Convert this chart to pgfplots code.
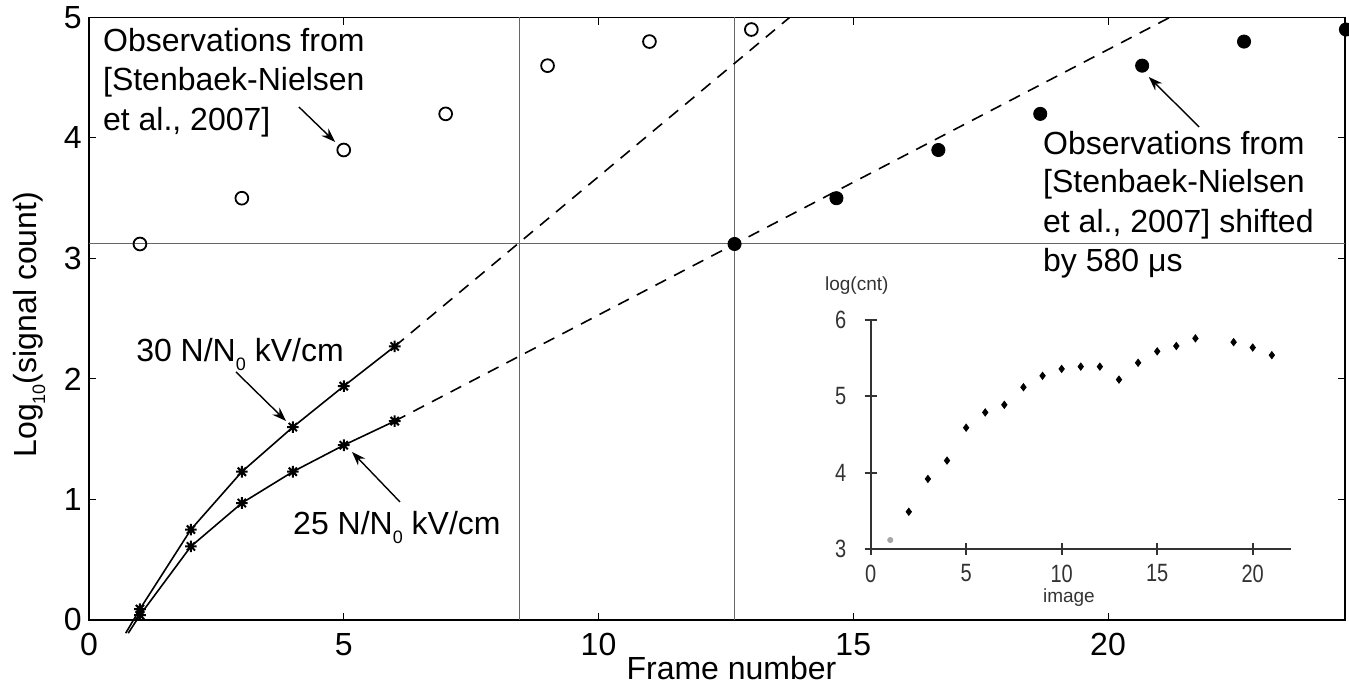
\documentclass[border=0pt]{standalone}
\usepackage{fontspec}
\setmainfont{Liberation Sans}
\newfontfamily\narrowfont[FakeStretch=0.8]{Liberation Sans}
\usepackage{pgfplots}
\pgfplotsset{compat=1.18}
\usetikzlibrary{arrows.meta}

\newcommand{\bigfont}{\fontsize{16}{19}\selectfont}
\newcommand{\smallfont}{\narrowfont\fontsize{12.5}{14}\selectfont}
\newcommand{\sub}[1]{\raisebox{-4.5pt}{\fontsize{9}{9}\selectfont #1}}

% MATLAB-like eight-armed star
\pgfdeclareplotmark{mstar}{%
  \pgfpathmoveto{\pgfqpoint{-\pgfplotmarksize}{0pt}}%
  \pgfpathlineto{\pgfqpoint{\pgfplotmarksize}{0pt}}%
  \pgfpathmoveto{\pgfqpoint{0pt}{-\pgfplotmarksize}}%
  \pgfpathlineto{\pgfqpoint{0pt}{\pgfplotmarksize}}%
  \pgfpathmoveto{\pgfqpoint{-0.707\pgfplotmarksize}{-0.707\pgfplotmarksize}}%
  \pgfpathlineto{\pgfqpoint{0.707\pgfplotmarksize}{0.707\pgfplotmarksize}}%
  \pgfpathmoveto{\pgfqpoint{-0.707\pgfplotmarksize}{0.707\pgfplotmarksize}}%
  \pgfpathlineto{\pgfqpoint{0.707\pgfplotmarksize}{-0.707\pgfplotmarksize}}%
  \pgfusepathqstroke}

\begin{document}
\begin{tikzpicture}[
  note/.style={font=\bigfont, inner sep=0pt, anchor=base west},
  pointer/.style={line width=0.7pt, -{Stealth[length=7pt, width=5pt]}},
  insettick/.style={black!80, line width=1pt},
]
\begin{axis}[
  name=main,
  scale only axis,
  width=628pt, height=301.25pt,
  xmin=0, xmax=24.65, ymin=0, ymax=5,
  xtick={0,5,10,15,20}, ytick={0,1,2,3,4,5},
  tick align=inside,
  major tick length=3.7pt,
  axis line style={line width=0.6pt},
  tick style={line width=0.5pt, black},
  /pgf/number format/assume math mode=true,
  ticklabel style={font=\bigfont, inner sep=0pt},
  xticklabel style={yshift=-6.5pt},
  yticklabel style={xshift=-3.5pt},
  clip=false,
]
% reference lines
\addplot[black!60, line width=0.5pt] coordinates {(0,3.12) (24.65,3.12)};
\addplot[black!60, line width=0.5pt] coordinates {(8.45,0) (8.45,5)};
\addplot[black!60, line width=0.5pt] coordinates {(12.67,0) (12.67,5)};

% 30 N/N0 kV/cm
\addplot[black, line width=0.8pt, mark=mstar, mark size=2.9pt,
  mark options={line width=1pt}]
  coordinates {(1,0.09) (2,0.75) (3,1.23) (4,1.60) (5,1.94) (6,2.27)};
\addplot[black, line width=0.8pt] coordinates {(0.72,-0.11) (1,0.09)};
\addplot[black, line width=0.8pt, dash pattern=on 6pt off 4.5pt]
  coordinates {(6,2.27) (13.75,5)};

% 25 N/N0 kV/cm
\addplot[black, line width=0.8pt, mark=mstar, mark size=2.9pt,
  mark options={line width=1pt}]
  coordinates {(1,0.04) (2,0.61) (3,0.97) (4,1.23) (5,1.45) (6,1.65)};
\addplot[black, line width=0.8pt] coordinates {(0.77,-0.11) (1,0.04)};
\addplot[black, line width=0.8pt, dash pattern=on 6pt off 4.5pt]
  coordinates {(6,1.65) (21.21,5)};

% observations
\addplot[only marks, mark=o, mark size=3.2pt, line width=0.9pt, black]
  coordinates {(1,3.12) (3,3.5) (5,3.9) (7,4.2) (9,4.6) (11,4.8) (13,4.9)};
% shifted observations
\addplot[only marks, mark=*, mark size=3.3pt, black]
  coordinates {(12.67,3.12) (14.67,3.5) (16.67,3.9) (18.67,4.2) (20.67,4.6) (22.67,4.8) (24.67,4.9)};

% labels
\node[font=\bigfont, inner sep=0pt, anchor=base, rotate=90] at (axis cs:-1.04,2.45) {Log\sub{10}(signal count)};
\node[font=\bigfont, inner sep=0pt, anchor=base] at (axis cs:12.61,-0.498) {Frame number};

% annotations
\node[note] at (axis cs:0.269,4.716) {Observations from};
\node[note] at (axis cs:0.269,4.390) {[Stenbaek-Nielsen};
\node[note] at (axis cs:0.269,4.066) {et al., 2007]};
\draw[pointer] (axis cs:4.12,4.257) -- (axis cs:4.83,3.967);

\node[note] at (axis cs:18.72,3.859) {Observations from};
\node[note] at (axis cs:18.72,3.544) {[Stenbaek-Nielsen};
\node[note] at (axis cs:18.72,3.212) {et al., 2007] shifted};
\node[note] at (axis cs:18.72,2.888) {by 580 μs};
\draw[pointer] (axis cs:21.79,4.091) -- (axis cs:20.80,4.506);

\node[note] at (axis cs:0.92,2.144) {30 N/N\sub{0} kV/cm};
\draw[pointer] (axis cs:2.885,2.058) -- (axis cs:3.867,1.651);
\node[note] at (axis cs:4.00,0.705) {25 N/N\sub{0} kV/cm};
\draw[pointer] (axis cs:6.104,0.979) -- (axis cs:5.162,1.394);

\coordinate (insetorig) at (axis cs:15.34,0.587);
\coordinate (bbsw) at (axis cs:-1.747,-0.539);
\coordinate (bbne) at (axis cs:24.73,5.145);
\end{axis}

% inset
\begin{axis}[
  at={(insetorig)}, anchor=south west,
  scale only axis, width=210.2pt, height=114.6pt,
  xmin=0, xmax=22, ymin=3, ymax=6,
  axis x line=bottom, axis y line=left,
  axis line style={-, black!80, line width=1pt},
  xtick={0,5,10,15,20}, ytick={3,4,5,6},
  tick align=center, major tick length=6pt,
  major tick style={draw=none},
  /pgf/number format/assume math mode=true,
  ticklabel style={font=\smallfont, text=black!80, inner sep=0pt},
  xticklabel style={yshift=-4.5pt},
  yticklabel style={xshift=-9pt},
  clip=false,
]
\draw[insettick] (axis cs:-0.3,3) -- (axis cs:0,3);
\pgfplotsinvokeforeach{0,5,10,15,20}{
  \draw[insettick] (axis cs:#1,3) ++(0pt,-3pt) -- ++(0pt,6pt);
}
\pgfplotsinvokeforeach{3,4,5,6}{
  \draw[insettick] (axis cs:0,#1) ++(-3pt,0pt) -- ++(6pt,0pt);
}
\addplot[only marks, mark=*, mark size=1.3pt, black!35] coordinates {(1.03,3.12)};
\addplot[only marks, mark=diamond*, mark size=1.8pt, black]
  coordinates {(2,3.49) (3,3.92) (4,4.16) (5,4.59) (6,4.79) (7,4.89) (8,5.12)
    (9,5.27) (10,5.36) (11,5.39) (12,5.39) (13,5.22) (14,5.44) (15,5.59)
    (16,5.66) (17,5.76) (19,5.71) (20,5.64) (21,5.54)};
\node[font=\fontsize{9.5}{11}\selectfont, text=black!80, inner sep=0pt, anchor=base] at (axis cs:10.38,2.30) {image};
\node[font=\fontsize{9.5}{11}\selectfont, text=black!80, inner sep=0pt, anchor=base] at (axis cs:-0.72,6.39) {log(cnt)};
\end{axis}

\pgfresetboundingbox
\path[use as bounding box] (bbsw) rectangle (bbne);
\end{tikzpicture}
\end{document}
